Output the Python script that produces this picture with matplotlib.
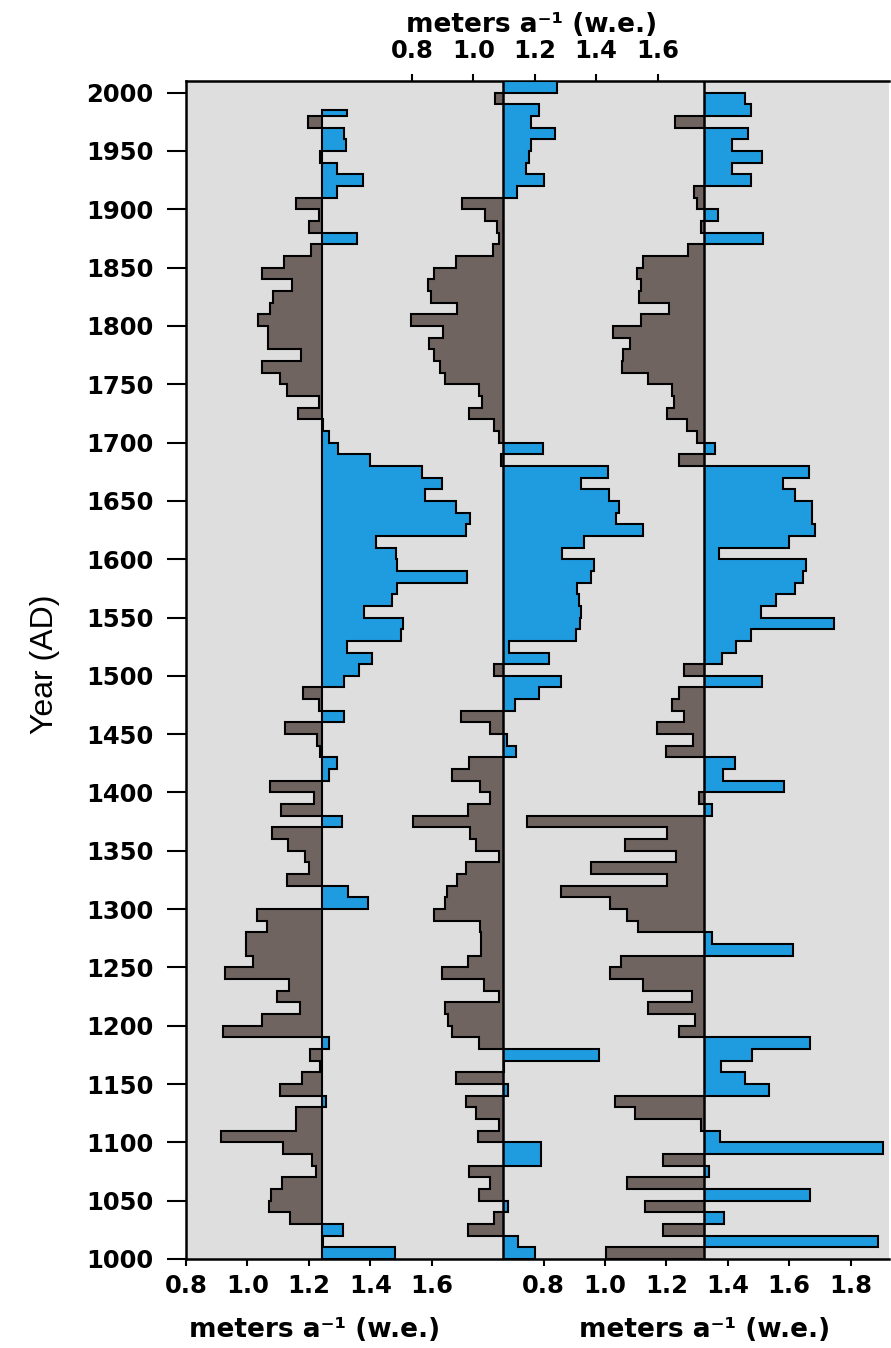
import numpy as np
import matplotlib.pyplot as plt

# decadal values, newest decade first (start year of each decade)
years1 = np.arange(1980, 999, -10)   # series ends 1985
top1 = 1985
p1 = [1.326, 1.197, 1.314, 1.322, 1.238, 1.292, 1.377, 1.292, 1.158, 1.234,
      1.201, 1.358, 1.206, 1.118, 1.048, 1.146, 1.085, 1.073, 1.036, 1.067,
      1.067, 1.175, 1.048, 1.107, 1.128, 1.234, 1.165, 1.245, 1.267, 1.296,
      1.401, 1.569, 1.635, 1.578, 1.679, 1.724, 1.712, 1.420, 1.483, 1.486,
      1.715, 1.486, 1.472, 1.380, 1.508, 1.501, 1.323, 1.406, 1.362, 1.314,
      1.182, 1.234, 1.314, 1.124, 1.226, 1.238, 1.293, 1.267, 1.073, 1.216,
      1.111, 1.307, 1.080, 1.133, 1.187, 1.201, 1.128, 1.328, 1.394, 1.031,
      1.063, 0.997, 0.997, 1.019, 0.928, 1.136, 1.096, 1.172, 1.048, 0.921,
      1.267, 1.204, 1.238, 1.177, 1.107, 1.257, 1.158, 1.158, 0.914, 1.117,
      1.209, 1.223, 1.114, 1.077, 1.070, 1.139, 1.311, 1.245, 1.482]

years2 = np.arange(2000, 999, -10)   # series ends 2010
top2 = 2010
p2 = [1.272, 1.070, 1.213, 1.187, 1.267, 1.187, 1.180, 1.172, 1.231, 1.143,
      0.963, 1.038, 1.077, 1.085, 1.063, 0.942, 0.873, 0.851, 0.863, 0.946,
      0.796, 0.902, 0.854, 0.873, 0.892, 0.907, 1.019, 1.029, 0.987, 1.067,
      1.085, 1.228, 1.089, 1.439, 1.350, 1.442, 1.474, 1.464, 1.552, 1.359,
      1.289, 1.394, 1.384, 1.337, 1.345, 1.352, 1.347, 1.333, 1.117, 1.245,
      1.067, 1.285, 1.213, 1.136, 0.961, 1.055, 1.111, 1.140, 0.985, 0.931,
      1.022, 1.055, 0.982, 0.804, 0.990, 1.009, 1.085, 0.975, 0.946, 0.914,
      0.909, 0.873, 1.023, 1.026, 1.026, 0.982, 0.899, 1.034, 1.082, 0.909,
      0.917, 0.931, 1.019, 1.409, 1.099, 0.943, 1.114, 0.975, 1.009, 1.085,
      1.015, 1.219, 1.219, 0.985, 1.055, 1.019, 1.114, 1.067, 0.982, 1.146,
      1.201]

years3 = np.arange(1990, 999, -10)   # series ends 2000
top3 = 2000
p3 = [1.457, 1.477, 1.229, 1.467, 1.413, 1.511, 1.413, 1.474, 1.289, 1.299,
      1.368, 1.314, 1.514, 1.270, 1.124, 1.105, 1.117, 1.112, 1.207, 1.117,
      1.025, 1.080, 1.058, 1.054, 1.139, 1.219, 1.226, 1.201, 1.266, 1.299,
      1.358, 1.241, 1.664, 1.581, 1.620, 1.674, 1.674, 1.683, 1.599, 1.372,
      1.654, 1.645, 1.620, 1.558, 1.508, 1.745, 1.477, 1.428, 1.380, 1.258,
      1.511, 1.241, 1.219, 1.256, 1.168, 1.288, 1.197, 1.423, 1.384, 1.584,
      1.306, 1.350, 0.747, 1.201, 1.066, 1.231, 0.953, 1.201, 0.858, 1.015,
      1.073, 1.107, 1.350, 1.613, 1.051, 1.015, 1.124, 1.284, 1.139, 1.294,
      1.241, 1.667, 1.479, 1.377, 1.455, 1.533, 1.032, 1.098, 1.314, 1.375,
      1.905, 1.190, 1.339, 1.073, 1.669, 1.131, 1.387, 1.190, 1.888, 1.004]

base1, base2, base3 = 1.242, 1.096, 1.322

BLUE = '#1f9ce0'
BROWN = '#6f6460'
BG = '#dedede'
plt.rcParams['font.family'] = ['DejaVu Sans']

W, H = 891, 1348
fig = plt.figure(figsize=(W / 100, H / 100), dpi=100)
rect = [186 / W, (H - 1259) / H, (889 - 186) / W, (1259 - 81) / H]
ax1 = fig.add_axes(rect)
ax2 = fig.add_axes(rect, sharey=ax1)
ax3 = fig.add_axes(rect, sharey=ax1)
ax2.set_facecolor('none')
ax3.set_facecolor('none')
ax1.set_facecolor(BG)

# each panel has its own x scale, offset along the shared width
ax1.set_xlim(0.8, 3.09)
ax2.set_xlim(0.064, 2.354)
ax3.set_xlim(-0.365, 1.925)
ax1.set_ylim(1000, 2010)


def draw_panel(ax, starts, vals, top, base):
    vals = np.array(vals)[::-1]
    edges = np.append(np.array(starts)[::-1], top)
    ax.stairs(np.maximum(vals, base), edges, baseline=base,
              orientation='horizontal', fill=True, color=BLUE, lw=0)
    ax.stairs(np.minimum(vals, base), edges, baseline=base,
              orientation='horizontal', fill=True, color=BROWN, lw=0)
    ax.stairs(vals, edges, baseline=base, orientation='horizontal',
              color='black', lw=1.5)
    return edges


e1 = draw_panel(ax1, years1, p1, top1, base1)
ax1.plot([base1, base1], [e1[0], e1[-1]], color='black', lw=1.5)
draw_panel(ax2, years2, p2, top2, base2)
ax2.axvline(base2, color='black', lw=1.8)
draw_panel(ax3, years3, p3, top3, base3)
ax3.axvline(base3, color='black', lw=1.8)

tick_font = dict(fontsize=17.5, fontweight='bold')

# y axis
ax1.set_yticks(np.arange(1000, 2001, 50))
ax1.set_yticklabels([str(y) for y in range(1000, 2001, 50)], **tick_font)
ax1.tick_params(axis='y', length=13.5, width=1.5, pad=10)

# bottom ticks for panels 1 and 3, top ticks for panel 2
ax1.set_xticks([0.8, 1.0, 1.2, 1.4, 1.6])
ax1.set_xticklabels(['0.8', '1.0', '1.2', '1.4', '1.6'], **tick_font)
ax1.tick_params(axis='x', length=5, width=1.5, pad=6)

ax3.set_xticks([0.8, 1.0, 1.2, 1.4, 1.6, 1.8])
ax3.set_xticklabels(['0.8', '1.0', '1.2', '1.4', '1.6', '1.8'], **tick_font)
ax3.tick_params(axis='x', length=5, width=1.5, pad=6)
ax3.tick_params(axis='y', left=False, labelleft=False)

ax2.xaxis.tick_top()
ax2.set_xticks([0.8, 1.0, 1.2, 1.4, 1.6])
ax2.set_xticklabels(['0.8', '1.0', '1.2', '1.4', '1.6'], **tick_font)
ax2.tick_params(axis='x', length=5, width=1.5, pad=8)
ax2.tick_params(axis='y', left=False, labelleft=False)

for ax in (ax2, ax3):
    for s in ax.spines.values():
        s.set_visible(False)
ax1.spines['right'].set_visible(False)
for s in ('left', 'top', 'bottom'):
    ax1.spines[s].set_linewidth(1.8)

unit = 'meters a\u207b\u00b9 (w.e.)'
ax1.set_xlabel(unit, fontsize=19, fontweight='bold')
ax1.xaxis.set_label_coords(0.183, -0.049)
ax3.set_xlabel(unit, fontsize=19, fontweight='bold')
ax3.xaxis.set_label_coords(0.738, -0.049)
ax2.xaxis.set_label_position('top')
ax2.set_xlabel(unit, fontsize=19, fontweight='bold')
ax2.xaxis.set_label_coords(0.491, 1.042)

ax1.text(-0.2, 0.505, 'Year (AD)', transform=ax1.transAxes, rotation=90,
         ha='center', va='center', fontsize=23, family='Liberation Sans')

fig.savefig('out.png', dpi=100)
